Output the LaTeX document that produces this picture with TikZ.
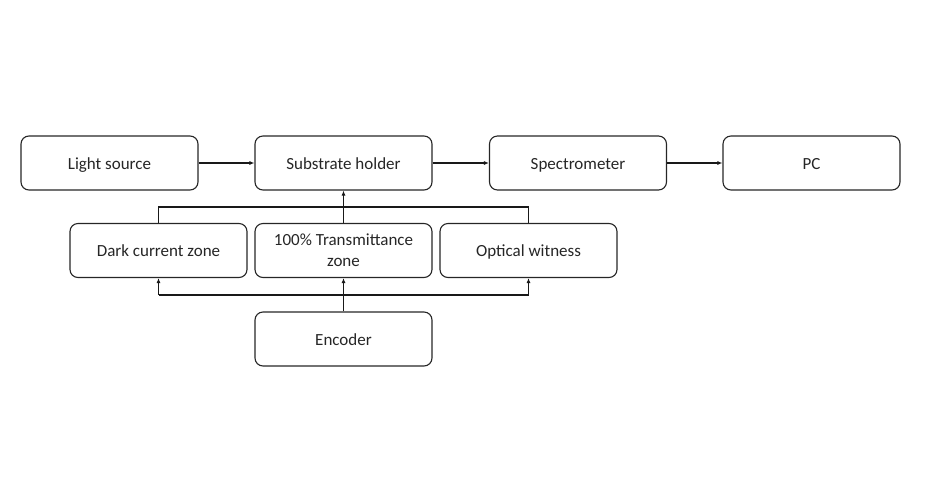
\documentclass[tikz,border=0pt]{standalone}
\usepackage{fontspec}
\setmainfont{Carlito}
\usetikzlibrary{arrows.meta}
\begin{document}
\begin{tikzpicture}[x=1pt,y=-1pt,
  blk/.style={draw=black!85, line width=1.1pt, rounded corners=8pt, minimum width=177pt, minimum height=54pt, align=center, inner sep=2pt, font=\fontsize{17}{21}\selectfont, text=black!85},
  one/.style={blk, text height=15pt, text depth=3pt},
  conn/.style={line width=1.2pt, draw=black!90},
  arr/.style={conn, -{Latex[length=5pt,width=4pt]}}]
\useasboundingbox (0,0) rectangle (940,483);
\node[one] (ls) at (109.5,163) {Light source};
\node[one] (sh) at (343.5,163) {Substrate holder};
\node[one] (sp) at (578,163) {Spectrometer};
\node[one] (pc) at (811.5,163) {PC};
\node[one] (dc) at (158.5,250.5) {Dark current zone};
\node[blk] (tz) at (343.5,250.5) {\raisebox{-2pt}{100\% Transmittance}\\\raisebox{-2pt}{zone}};
\node[one] (ow) at (528.5,250.5) {Optical witness};
\node[one] (en) at (343.5,339) {Encoder};
\coordinate (tl) at (158.5,207);
\coordinate (tr) at (528.5,207);
\coordinate (bl) at (158.5,295);
\coordinate (br) at (528.5,295);
\draw[arr] (ls) -- (sh);
\draw[arr] (sh) -- (sp);
\draw[arr] (sp) -- (pc);
\draw[conn] (dc.north) -- (tl) -- (tr) -- (ow.north);
\draw[arr] (tz) -- (sh);
\draw[arr] (en) -- (tz);
\draw[arr] (bl) -- (dc.south);
\draw[arr] (br) -- (ow.south);
\draw[conn] (bl) -- (br);
\end{tikzpicture}
\end{document}
